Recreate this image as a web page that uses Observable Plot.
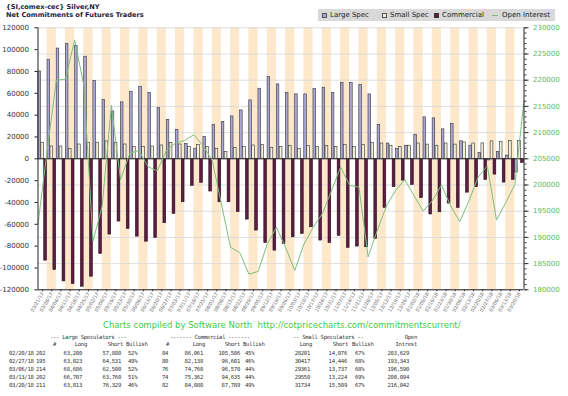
<!DOCTYPE html>
<html><head><meta charset="utf-8">
<script src="https://cdn.jsdelivr.net/npm/d3@7"></script>
<script src="https://cdn.jsdelivr.net/npm/@observablehq/plot@0.6"></script>
<style>
body{margin:0;background:#fff;}
#wrap{position:relative;width:568px;height:396px;overflow:hidden;font-family:"DejaVu Sans",sans-serif;}
#chart{position:absolute;left:0;top:0;}
.title{position:absolute;left:6px;top:4px;font-weight:bold;font-size:6.6px;line-height:7.6px;color:#1c1c3c;white-space:nowrap;}
.legend{position:absolute;left:318px;top:9px;width:237px;height:12px;background:#d9d9d9;font-size:7px;color:#222;}
.legend span{position:absolute;top:2px;white-space:nowrap;line-height:8px;}
.legend i{position:absolute;top:3.5px;width:5px;height:5px;box-sizing:border-box;}
.footer{position:absolute;left:103px;top:320px;font-size:8.5px;color:#3fcc3f;white-space:nowrap;line-height:10px;}
.cell{position:absolute;font-family:"DejaVu Sans Mono",monospace;font-size:5.6px;letter-spacing:-0.3px;color:#333;white-space:pre;line-height:6px;}
</style></head>
<body><div id="wrap">
<div id="chart"></div>
<div class="title">{SI,comex-cec} Silver,NY<br>Net Commitments of Futures Traders</div>
<div class="legend">
  <i style="left:4px;background:#aaa7d6;border:1px solid #555"></i><span style="left:12px">Large Spec</span>
  <i style="left:64px;background:#f1efd9;border:1px solid #555"></i><span style="left:72px">Small Spec</span>
  <i style="left:116px;background:#5e1d42;border:1px solid #333"></i><span style="left:124px">Commercial</span>
  <i style="left:174px;top:6px;height:1px;width:6px;background:#7cbf7c"></i><span style="left:184px">Open Interest</span>
</div>
<div class="footer">Charts compiled by Software North&nbsp; http://cotpricecharts.com/commitmentscurrent/</div>
<div id="table"></div>
</div>
<script>
// Weekly report dates (bar groups)
const dates = ["03/21/17","03/28/17","04/04/17","04/11/17","04/18/17","04/25/17","05/02/17","05/09/17","05/16/17","05/23/17","05/30/17","06/06/17","06/13/17","06/20/17","06/27/17","07/03/17","07/11/17","07/18/17","07/25/17","08/01/17","08/08/17","08/15/17","08/22/17","08/29/17","09/05/17","09/12/17","09/19/17","09/26/17","10/03/17","10/10/17","10/17/17","10/24/17","10/31/17","11/07/17","11/14/17","11/21/17","11/28/17","12/05/17","12/12/17","12/19/17","12/26/17","01/02/18","01/09/18","01/16/18","01/23/18","01/30/18","02/06/18","02/13/18","02/20/18","02/27/18","03/06/18","03/13/18","03/20/18"];
// Net positions (contracts)
const largeSpec = [80000,90800,101000,105000,103400,93500,71200,54000,43400,51700,61400,66000,60500,46400,35700,26500,13500,9200,19900,31200,33600,38800,44300,53500,64200,74900,68200,60200,59000,59000,63900,65100,60200,69400,69400,67600,59000,31000,14000,9000,12000,22000,38000,37000,27000,32000,16000,12000,5320,-1508,6186,2947,-12516];
const smallSpec = [14700,11300,11300,9200,13100,14700,14700,15900,14700,13100,10700,10700,11300,12200,14400,13100,10700,12800,10700,9200,6100,9800,10700,12200,12800,10100,10700,11600,9200,11600,11000,11600,11000,12800,11000,12800,14700,14000,12000,11000,12000,14000,13000,12000,14000,13000,15000,14000,14125,15971,15624,16326,16225];
const commercial = [-93300,-101900,-112300,-114700,-117200,-108000,-87200,-69400,-57500,-64200,-71300,-75900,-72500,-59000,-50500,-39800,-24800,-22000,-30000,-39800,-39800,-48900,-55700,-65700,-77100,-84100,-78000,-71900,-68800,-62700,-74900,-77100,-70600,-81600,-80400,-81000,-73400,-45000,-26000,-20000,-24000,-36000,-51000,-49000,-41000,-45000,-31000,-26000,-19445,-14463,-21810,-19273,-3709];
// Open interest: first value is the prior week (03/14/17), then one per report date
const openInterest = [192500,206600,220000,220200,227700,219000,189300,196000,215200,201000,206000,206600,203500,202700,206600,208000,208500,209600,207500,204700,196400,188100,187100,183000,183500,188700,191900,188100,183700,188700,191900,194500,198900,203400,199900,199600,186300,191300,196000,199000,201000,198000,195000,197000,200000,196000,193000,197000,201500,203629,193343,196590,200094,216042];
const leftTicks = [-120000,-100000,-80000,-60000,-40000,-20000,0,20000,40000,60000,80000,100000,120000];
const oiTicks = [180000,185000,190000,195000,200000,205000,210000,215000,220000,225000,230000];

// Table
const tblDates = ["02/20/18","02/27/18","03/06/18","03/13/18","03/20/18"];
const lsCount = ["202","195","214","202","211"];
const lsLong = ["63,200","63,023","68,686","66,707","63,813"];
const lsShort = ["57,880","64,531","62,500","63,760","76,329"];
const lsBull = ["52%","49%","52%","51%","46%"];
const cmCount = ["84","80","76","74","82"];
const cmLong = ["86,061","82,138","74,760","75,362","84,080"];
const cmShort = ["105,506","96,601","96,570","94,635","87,789"];
const cmBull = ["45%","46%","44%","44%","49%"];
const ssLong = ["28201","30417","29361","29550","31734"];
const ssShort = ["14,076","14,446","13,737","13,224","15,509"];
const ssBull = ["67%","68%","68%","69%","67%"];
const tblOI = ["203,629","193,343","196,590","200,094","216,042"];

const OI_MID = 205000, OI_K = 4.8; // right axis 180000..230000 shares the left axis span
const toLeft = v => (v - OI_MID) * OI_K;

const rows = dates.map((d, i) => ({i, d, large: largeSpec[i], small: smallSpec[i], comm: commercial[i]}));
const stripes = rows.filter(r => r.i % 2 === 1);
const minorOI = d3.range(180000, 230001, 1000);

const chart = Plot.plot({
  width: 568, height: 340,
  marginLeft: 37.5, marginRight: 44.5, marginTop: 27.3, marginBottom: 50.7,
  x: {domain: [0, dates.length], axis: null},
  y: {domain: [-120000, 120000], axis: null},
  style: {background: "transparent", fontFamily: "DejaVu Sans"},
  marks: [
    Plot.rect(stripes, {x1: d => d.i, x2: d => d.i + 1, y1: () => -120000, y2: () => 120000, fill: "#fde8cc"}),
    Plot.ruleY(oiTicks.map(toLeft), {stroke: "#d6d6d6", strokeWidth: 0.8}),
    Plot.rect(rows, {x1: d => d.i + 0.04, x2: d => d.i + 0.32, y1: () => 0, y2: "large", fill: "#aaa7d6", stroke: "#333", strokeWidth: 0.6}),
    Plot.rect(rows, {x1: d => d.i + 0.36, x2: d => d.i + 0.66, y1: () => 0, y2: "small", fill: "#f1efd9", stroke: "#333", strokeWidth: 0.6}),
    Plot.rect(rows, {x1: d => d.i + 0.68, x2: d => d.i + 0.98, y1: () => 0, y2: "comm", fill: "#5e1d42", stroke: "#2a0a1c", strokeWidth: 0.6}),
    Plot.ruleY([0], {stroke: "#333", strokeWidth: 1}),
    Plot.line(openInterest, {x: (d, k) => k, y: d => toLeft(d), stroke: "#7cbf7c", strokeWidth: 1}),
    Plot.ruleX([0, dates.length], {stroke: "#222", strokeWidth: 1}),
    Plot.ruleY([-120000], {stroke: "#222", strokeWidth: 1}),
    Plot.axisY({ticks: leftTicks, tickFormat: d => String(d), tickSize: 3, fontSize: 7, fill: "#333", stroke: "#222"}),
    Plot.axisY({anchor: "right", ticks: minorOI.map(toLeft), tickSize: 2, text: null, stroke: "#333"}),
    Plot.axisY({anchor: "right", ticks: oiTicks.map(toLeft), tickFormat: d => String(Math.round(d / OI_K + OI_MID)), tickSize: 4, fontSize: 7, fill: "#5cb85c", stroke: "#333"}),
    Plot.axisX({ticks: dates.map((d, i) => i + 0.5), tickFormat: d => dates[Math.floor(d)], tickRotate: -60, fontSize: 4.8, tickSize: 2, tickPadding: 1, fill: "#666", stroke: "#333"})
  ]
});
document.getElementById("chart").append(chart);

// Table text
const T = document.getElementById("table");
function put(txt, x, y, align) {
  const s = document.createElement("div");
  s.className = "cell";
  s.textContent = txt;
  if (align === "r") { s.style.right = (568 - x) + "px"; s.style.textAlign = "right"; }
  else s.style.left = x + "px";
  s.style.top = (y - 3) + "px";
  T.appendChild(s);
}
put("--- Large Speculators ---", 50, 336.5);
put("------- Commercial -------", 170, 336.5);
put("-- Small Speculators --", 293, 336.5);
put("Open", 417, 336.5, "r");
put("#", 53, 344.3);
put("Long", 87, 344.3, "r");
put("Short", 123, 344.3, "r");
put("Bullish", 126, 344.3);
put("#", 166, 344.3);
put("Long", 205, 344.3, "r");
put("Short", 240, 344.3, "r");
put("Bullish", 243, 344.3);
put("Long", 312, 344.3, "r");
put("Short", 348, 344.3, "r");
put("Bullish", 352, 344.3);
put("Intrest", 417, 344.3, "r");
const rowY = [353.3, 361.1, 368.9, 376.7, 384.5];
tblDates.forEach((d, r) => {
  const y = rowY[r];
  put(d, 9, y);
  put(lsCount[r], 36, y);
  put(lsLong[r], 82, y, "r");
  put(lsShort[r], 121, y, "r");
  put(lsBull[r], 128, y);
  put(cmCount[r], 162, y);
  put(cmLong[r], 203, y, "r");
  put(cmShort[r], 240, y, "r");
  put(cmBull[r], 245, y);
  put(ssLong[r], 310, y, "r");
  put(ssShort[r], 347, y, "r");
  put(ssBull[r], 355, y);
  put(tblOI[r], 409, y, "r");
});
</script>
</body></html>
